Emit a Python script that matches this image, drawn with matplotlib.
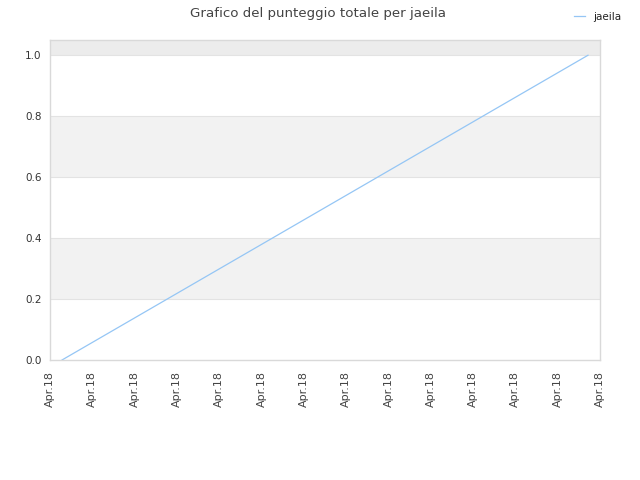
import matplotlib
matplotlib.use("Agg")
import matplotlib.pyplot as plt
import matplotlib.dates as mdates
import numpy as np
import datetime as dt

dates = [dt.datetime(2018, 4, 10), dt.datetime(2018, 4, 11)]
scores = [0.0, 1.0]
series_name = "jaeila"
title = "Grafico del punteggio totale per jaeila"

fig = plt.figure(figsize=(6.4, 4.8), dpi=100)
ax = fig.add_axes([50/640, 1-360/480, 550/640, 320/480])

x = mdates.date2num(dates)
span = x[-1] - x[0]
pad = span * 12 / 526
xmin, xmax = x[0] - pad, x[-1] + pad
ax.set_xlim(xmin, xmax)
ax.set_ylim(0, 1.05)

# alternating bands
bands = [(0.2, 0.4, "#f2f2f2"), (0.6, 0.8, "#f2f2f2"), (1.0, 1.05, "#ececec")]
for lo, hi, c in bands:
    ax.axhspan(lo, hi, color=c, zorder=0, lw=0)
for yv in [0.2, 0.4, 0.6, 0.8, 1.0]:
    ax.axhline(yv, color="#e3e3e3", lw=0.8, zorder=0.5)

ax.plot(x, scores, color="#95c6f5", lw=0.9, label=series_name, zorder=2)

ax.set_xticks(np.linspace(xmin, xmax, 14))
ax.xaxis.set_major_formatter(mdates.DateFormatter("%b.%y"))
ax.set_yticks([0, 0.2, 0.4, 0.6, 0.8, 1.0])
ax.set_yticklabels(["0.0", "0.2", "0.4", "0.6", "0.8", "1.0"])
ax.tick_params(axis="y", length=0, labelsize=7.5, colors="#333333", pad=6)
ax.tick_params(axis="x", length=0, labelsize=8, colors="#444444", pad=8)
plt.setp(ax.get_xticklabels(), rotation=90)

for s in ax.spines.values():
    s.set_color("#d9d9d9")
    s.set_linewidth(1)

fig.suptitle(title, x=0.497, y=0.986, fontsize=9.6, color="#444444")
fig.legend(loc="upper right", bbox_to_anchor=(0.985, 0.995), frameon=False,
           fontsize=7.5, handlelength=1.0, labelcolor="#222222")

fig.savefig("out.png", dpi=100)
